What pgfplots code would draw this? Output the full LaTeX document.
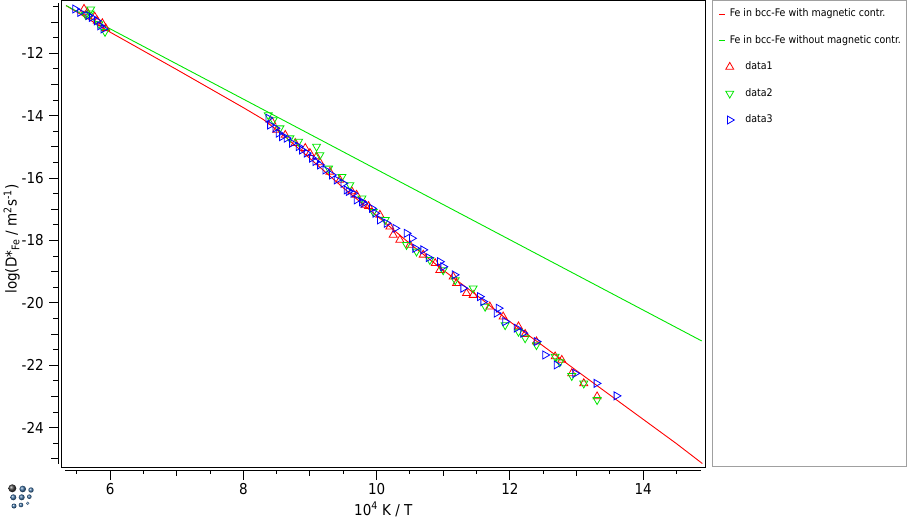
\documentclass[border=0pt]{standalone}
\usepackage{fontspec}
\setmainfont{DejaVu Sans Condensed}
\usepackage{pgfplots}
\pgfplotsset{compat=1.18}
\definecolor{tcred}{RGB}{255,0,0}
\definecolor{tcgreen}{RGB}{0,230,0}
\definecolor{tcblue}{RGB}{0,0,255}
\definecolor{logoblue}{RGB}{60,110,160}
\definecolor{leggray}{RGB}{160,160,160}
\pgfplotsset{
  lineleg/.style={legend image code/.code={%
    \path[draw=none, fill=none] (0pt,-1pt) rectangle (16pt,1pt);
    \draw[##1] (0pt,0pt) -- (6pt,0pt);}},
  markleg/.style={legend image code/.code={%
    \path[draw=none, fill=none] (0pt,-1pt) rectangle (16pt,1pt);
    \draw[##1] plot coordinates {(10.3pt,0pt)};}},
  tcticks/.style={
    tick align=outside,
    axis line style={-, line width=1pt},
    tick style={black, line width=1pt},
    major tick length=9pt,
    /pgf/number format/assume math mode=true,
    tick label style={font=\fontsize{15}{17}\selectfont},
    label style={font=\fontsize{15}{17}\selectfont},
  },
}
\begin{document}
\begin{tikzpicture}
\useasboundingbox (0pt,0pt) rectangle (909pt,519pt);

% plot box with the curves and the data
\begin{axis}[
    at={(61.7pt,51.7pt)}, anchor=south west,
    scale only axis, width=644pt, height=466.6pt,
    xmin=5.275, xmax=14.94,
    ymin=-25.27, ymax=-10.314,
    ticks=none,
    axis line style={line width=1pt},
    legend style={
      at={(1.02065,0.98274)}, anchor=north west,
      draw=none, fill=none, inner sep=0pt, outer sep=0pt,
      row sep=16pt, column sep=0pt,
      nodes={inner sep=0pt, anchor=west, text height=8pt, text depth=2.5pt,
             font=\fontsize{10.5}{12}\selectfont},
    },
    legend cell align=left,
]
% Fe in bcc-Fe with magnetic contribution
\addplot[tcred, line width=0.9pt, lineleg] coordinates {
(5.34,-10.47) (6.0,-11.32) (7.0,-12.52) (8.0,-13.74) (8.3,-14.12)
(8.6,-14.62) (9.0,-15.37) (9.5,-16.31) (10.0,-17.2) (10.5,-18.1)
(11.0,-18.95) (11.5,-19.75) (12.0,-20.6) (12.5,-21.38) (13.0,-22.17)
(13.5,-22.95) (14.0,-23.73) (14.5,-24.51) (14.89,-25.15)
};
\addlegendentry{\hspace{-5.7pt}Fe in bcc-Fe with magnetic contr.}
% Fe in bcc-Fe without magnetic contribution
\addplot[tcgreen, line width=0.9pt, lineleg] coordinates {
(5.34,-10.47) (14.88,-21.22)
};
\addlegendentry{\hspace{-5.7pt}Fe in bcc-Fe without magnetic contr.}

\addplot[only marks, mark=triangle, mark size=4.6pt, tcred,
  mark options={line width=0.8pt}, markleg] coordinates {
(5.61,-10.58) (5.66,-10.69) (5.77,-10.83) (5.81,-10.96) (5.885,-11.04)
(5.935,-11.20) (8.43,-14.19) (8.50,-14.46) (8.63,-14.62) (8.78,-14.88)
(8.93,-15.04) (9.00,-15.20) (9.10,-15.31) (9.15,-15.50) (9.30,-15.80)
(9.45,-16.06) (9.63,-16.43) (9.70,-16.54) (9.83,-16.86) (9.88,-16.90)
(10.05,-17.18) (10.20,-17.56) (10.25,-17.82) (10.35,-17.98) (10.50,-18.14)
(10.70,-18.46) (10.88,-18.73) (10.95,-18.95) (11.15,-19.16) (11.20,-19.37)
(11.35,-19.69) (11.45,-19.75) (11.70,-20.12) (11.90,-20.44) (12.13,-20.76)
(12.23,-21.00) (12.40,-21.24) (12.68,-21.72) (12.78,-21.83) (12.93,-22.26)
(13.11,-22.58) (13.31,-23.00)
};
\addlegendentry{\hspace{10pt}data1}

\addplot[only marks, mark=triangle, mark size=4.6pt, tcgreen,
  mark options={rotate=180, line width=0.8pt}, markleg] coordinates {
(5.635,-10.77) (5.70,-10.72) (5.71,-10.59) (5.835,-11.06) (5.925,-11.31)
(8.375,-13.98) (8.45,-14.14) (8.55,-14.40) (8.70,-14.72) (8.83,-14.83)
(9.10,-14.99) (9.15,-15.26) (9.28,-15.69) (9.48,-15.96) (9.60,-16.22)
(9.78,-16.65) (9.95,-17.08) (10.13,-17.34) (10.45,-18.14) (10.60,-18.35)
(10.80,-18.62) (11.00,-18.95) (11.18,-19.27) (11.45,-19.53) (11.63,-20.12)
(11.93,-20.71) (12.13,-20.92) (12.23,-21.13) (12.40,-21.35) (12.68,-21.72)
(12.75,-21.90) (12.93,-22.34) (13.11,-22.58) (13.31,-23.11)
};
\addlegendentry{\hspace{10pt}data2}

\addplot[only marks, mark=triangle, mark size=4.6pt, tcblue,
  mark options={rotate=-90, line width=0.8pt}, markleg] coordinates {
(5.475,-10.58) (5.55,-10.69) (5.674,-10.79) (5.725,-10.85) (5.80,-10.96)
(5.85,-11.12) (5.90,-11.22) (8.375,-14.08) (8.40,-14.30) (8.48,-14.40)
(8.53,-14.56) (8.58,-14.67) (8.65,-14.72) (8.73,-14.88) (8.83,-14.99)
(8.88,-15.10) (8.95,-15.20) (9.03,-15.36) (9.08,-15.47) (9.15,-15.58)
(9.23,-15.74) (9.33,-15.90) (9.40,-16.06) (9.50,-16.17) (9.55,-16.38)
(9.58,-16.43) (9.65,-16.49) (9.70,-16.70) (9.78,-16.76) (9.80,-16.81)
(9.93,-16.97) (9.98,-17.13) (10.05,-17.34) (10.15,-17.45) (10.28,-17.61)
(10.45,-17.77) (10.53,-17.93) (10.58,-18.25) (10.70,-18.30) (10.78,-18.55)
(10.95,-18.68) (11.00,-18.84) (11.17,-19.10) (11.30,-19.53) (11.55,-19.80)
(11.60,-19.96) (11.80,-20.33) (11.83,-20.17) (11.93,-20.60) (12.10,-20.81)
(12.20,-20.97) (12.40,-21.24) (12.53,-21.67) (12.70,-21.99) (12.98,-22.26)
(13.30,-22.58) (13.60,-22.98)
};
\addlegendentry{\hspace{10pt}data3}
\end{axis}

% detached x axis
\begin{axis}[
    at={(65.4pt,48.3pt)}, anchor=south west,
    scale only axis, width=635.8pt, height=100pt,
    xmin=5.33, xmax=14.87, ymin=0, ymax=1,
    axis x line*=bottom, hide y axis, tcticks,
    xtick={6,8,10,12,14},
    minor xtick={5.5,6.5,7.5,8.5,9.5,10.5,11.5,12.5,13.5,14.5},
    minor tick length=3pt,
    extra x ticks={7,9,11,13}, extra x tick labels={},
    extra x tick style={major tick length=5pt},
    xlabel={10\textsuperscript{4} K / T},
    xlabel style={at={(axis description cs:0.5,-0.443)}, anchor=base},
]
\end{axis}

% detached y axis
\begin{axis}[
    at={(58.3pt,55.4pt)}, anchor=south west,
    scale only axis, width=100pt, height=460.2pt,
    xmin=0, xmax=1, ymin=-25.15, ymax=-10.40,
    axis y line*=left, hide x axis, tcticks,
    ytick={-24,-22,-20,-18,-16,-14,-12},
    minor ytick={-24.5,-23.5,-22.5,-21.5,-20.5,-19.5,-18.5,-17.5,-16.5,-15.5,-14.5,-13.5,-12.5,-11.5,-10.5},
    minor tick length=5pt,
    extra y ticks={-25,-23,-21,-19,-17,-15,-13,-11}, extra y tick labels={},
    extra y tick style={major tick length=7pt},
    yticklabel style={xshift=-2pt},
    ylabel={log(D*\textsubscript{Fe} / m\textsuperscript{2}s\textsuperscript{-1})},
    ylabel style={at={(axis description cs:-0.466,0.488)}, anchor=center},
]
\end{axis}

% legend frame
\draw[leggray, line width=1pt] (712.7pt,53pt) rectangle (906.5pt,518pt);

% program logo
\shade[ball color=black!75] (12.3pt,30.7pt) circle (4pt);
\shade[ball color=logoblue] (22.7pt,30pt) circle (3.3pt);
\shade[ball color=logoblue] (31pt,29pt) circle (2.7pt);
\shade[ball color=logoblue] (13.3pt,21.7pt) circle (3pt);
\shade[ball color=logoblue] (21.7pt,21.7pt) circle (3pt);
\shade[ball color=logoblue] (29.3pt,22.3pt) circle (2.3pt);
\shade[ball color=logoblue] (14pt,13pt) circle (2.5pt);
\shade[ball color=logoblue] (21pt,14pt) circle (2.3pt);
\shade[ball color=logoblue] (27.7pt,15.7pt) circle (1.7pt);
\end{tikzpicture}
\end{document}
